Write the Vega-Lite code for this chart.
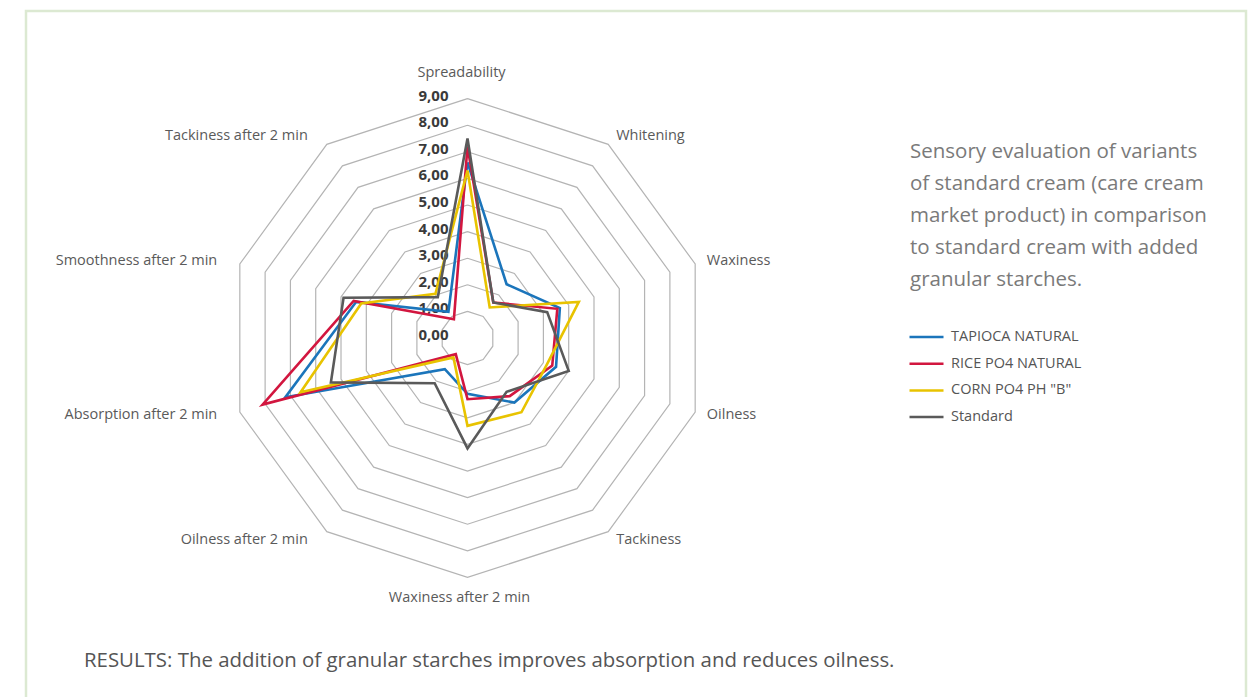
{
  "$schema": "https://vega.github.io/schema/vega-lite/v6.json",
  "width": 1220,
  "height": 688,
  "autosize": {"type": "none"},
  "padding": {"left": 26, "top": 11, "right": 10, "bottom": -2},
  "background": "white",
  "config": {
    "view": {"stroke": "#dce9d2", "strokeWidth": 2.5},
    "font": "Open Sans"
  },
  "title": {
    "text": "RESULTS: The addition of granular starches improves absorption and reduces oilness.",
    "orient": "bottom",
    "anchor": "start",
    "frame": "group",
    "offset": -48,
    "dx": 58,
    "fontSize": 20.4,
    "fontWeight": "normal",
    "font": "Open Sans",
    "color": "#555555"
  },
  "datasets": {
    "rings": [
      {"level": 1, "vertex": [0,1,2,3,4,5,6,7,8,9,10]},
      {"level": 2, "vertex": [0,1,2,3,4,5,6,7,8,9,10]},
      {"level": 3, "vertex": [0,1,2,3,4,5,6,7,8,9,10]},
      {"level": 4, "vertex": [0,1,2,3,4,5,6,7,8,9,10]},
      {"level": 5, "vertex": [0,1,2,3,4,5,6,7,8,9,10]},
      {"level": 6, "vertex": [0,1,2,3,4,5,6,7,8,9,10]},
      {"level": 7, "vertex": [0,1,2,3,4,5,6,7,8,9,10]},
      {"level": 8, "vertex": [0,1,2,3,4,5,6,7,8,9,10]},
      {"level": 9, "vertex": [0,1,2,3,4,5,6,7,8,9,10]}
    ],
    "levels": [
      {"level": 0, "label": "0,00"},
      {"level": 1, "label": "1,00"},
      {"level": 2, "label": "2,00"},
      {"level": 3, "label": "3,00"},
      {"level": 4, "label": "4,00"},
      {"level": 5, "label": "5,00"},
      {"level": 6, "label": "6,00"},
      {"level": 7, "label": "7,00"},
      {"level": 8, "label": "8,00"},
      {"level": 9, "label": "9,00"}
    ],
    "attributes": [
      {"attribute": "Spreadability", "idx": 0},
      {"attribute": "Whitening", "idx": 1},
      {"attribute": "Waxiness", "idx": 2},
      {"attribute": "Oilness", "idx": 3},
      {"attribute": "Tackiness", "idx": 4},
      {"attribute": "Waxiness after 2 min", "idx": 5},
      {"attribute": "Oilness after 2 min", "idx": 6},
      {"attribute": "Absorption after 2 min", "idx": 7},
      {"attribute": "Smoothness after 2 min", "idx": 8},
      {"attribute": "Tackiness after 2 min", "idx": 9}
    ],
    "scores": [
      {"series": "TAPIOCA NATURAL", "attribute": "Spreadability", "idx": 0, "value": 6.6},
      {"series": "TAPIOCA NATURAL", "attribute": "Whitening", "idx": 1, "value": 2.5},
      {"series": "TAPIOCA NATURAL", "attribute": "Waxiness", "idx": 2, "value": 3.65},
      {"series": "TAPIOCA NATURAL", "attribute": "Oilness", "idx": 3, "value": 3.5},
      {"series": "TAPIOCA NATURAL", "attribute": "Tackiness", "idx": 4, "value": 3.0},
      {"series": "TAPIOCA NATURAL", "attribute": "Waxiness after 2 min", "idx": 5, "value": 2.1},
      {"series": "TAPIOCA NATURAL", "attribute": "Oilness after 2 min", "idx": 6, "value": 1.45},
      {"series": "TAPIOCA NATURAL", "attribute": "Absorption after 2 min", "idx": 7, "value": 7.2},
      {"series": "TAPIOCA NATURAL", "attribute": "Smoothness after 2 min", "idx": 8, "value": 4.4},
      {"series": "TAPIOCA NATURAL", "attribute": "Tackiness after 2 min", "idx": 9, "value": 1.22},
      {"series": "TAPIOCA NATURAL", "attribute": "Spreadability", "idx": 10, "value": 6.6},
      {"series": "RICE PO4 NATURAL", "attribute": "Spreadability", "idx": 0, "value": 7.2},
      {"series": "RICE PO4 NATURAL", "attribute": "Whitening", "idx": 1, "value": 1.65},
      {"series": "RICE PO4 NATURAL", "attribute": "Waxiness", "idx": 2, "value": 3.55},
      {"series": "RICE PO4 NATURAL", "attribute": "Oilness", "idx": 3, "value": 3.35},
      {"series": "RICE PO4 NATURAL", "attribute": "Tackiness", "idx": 4, "value": 2.7},
      {"series": "RICE PO4 NATURAL", "attribute": "Waxiness after 2 min", "idx": 5, "value": 2.3},
      {"series": "RICE PO4 NATURAL", "attribute": "Oilness after 2 min", "idx": 6, "value": 0.75},
      {"series": "RICE PO4 NATURAL", "attribute": "Absorption after 2 min", "idx": 7, "value": 8.1},
      {"series": "RICE PO4 NATURAL", "attribute": "Smoothness after 2 min", "idx": 8, "value": 4.5},
      {"series": "RICE PO4 NATURAL", "attribute": "Tackiness after 2 min", "idx": 9, "value": 0.87},
      {"series": "RICE PO4 NATURAL", "attribute": "Spreadability", "idx": 10, "value": 7.2},
      {"series": "CORN PO4 PH \"B\"", "attribute": "Spreadability", "idx": 0, "value": 6.3},
      {"series": "CORN PO4 PH \"B\"", "attribute": "Whitening", "idx": 1, "value": 1.42},
      {"series": "CORN PO4 PH \"B\"", "attribute": "Waxiness", "idx": 2, "value": 4.4},
      {"series": "CORN PO4 PH \"B\"", "attribute": "Oilness", "idx": 3, "value": 3.15},
      {"series": "CORN PO4 PH \"B\"", "attribute": "Tackiness", "idx": 4, "value": 3.45},
      {"series": "CORN PO4 PH \"B\"", "attribute": "Waxiness after 2 min", "idx": 5, "value": 3.3},
      {"series": "CORN PO4 PH \"B\"", "attribute": "Oilness after 2 min", "idx": 6, "value": 0.9},
      {"series": "CORN PO4 PH \"B\"", "attribute": "Absorption after 2 min", "idx": 7, "value": 6.6},
      {"series": "CORN PO4 PH \"B\"", "attribute": "Smoothness after 2 min", "idx": 8, "value": 4.2},
      {"series": "CORN PO4 PH \"B\"", "attribute": "Tackiness after 2 min", "idx": 9, "value": 2.05},
      {"series": "CORN PO4 PH \"B\"", "attribute": "Spreadability", "idx": 10, "value": 6.3},
      {"series": "Standard", "attribute": "Spreadability", "idx": 0, "value": 7.5},
      {"series": "Standard", "attribute": "Whitening", "idx": 1, "value": 1.65},
      {"series": "Standard", "attribute": "Waxiness", "idx": 2, "value": 3.15},
      {"series": "Standard", "attribute": "Oilness", "idx": 3, "value": 4.0},
      {"series": "Standard", "attribute": "Tackiness", "idx": 4, "value": 2.5},
      {"series": "Standard", "attribute": "Waxiness after 2 min", "idx": 5, "value": 4.15},
      {"series": "Standard", "attribute": "Oilness after 2 min", "idx": 6, "value": 2.1},
      {"series": "Standard", "attribute": "Absorption after 2 min", "idx": 7, "value": 5.4},
      {"series": "Standard", "attribute": "Smoothness after 2 min", "idx": 8, "value": 4.9},
      {"series": "Standard", "attribute": "Tackiness after 2 min", "idx": 9, "value": 1.9},
      {"series": "Standard", "attribute": "Spreadability", "idx": 10, "value": 7.5}
    ]
  },
  "layer": [
    {
      "data": {"name": "rings"},
      "transform": [
        {"flatten": ["vertex"]},
        {"calculate": "datum.level * sin(datum.vertex * PI / 5)", "as": "px"},
        {"calculate": "datum.level * cos(datum.vertex * PI / 5)", "as": "py"}
      ],
      "mark": {"type": "line", "stroke": "#b4b4b4", "strokeWidth": 1.2},
      "encoding": {
        "x": {"field": "px", "type": "quantitative", "scale": {"domain": [-16.598, 29.267], "nice": false, "zero": false}, "axis": null},
        "y": {"field": "py", "type": "quantitative", "scale": {"domain": [-13.571, 12.293], "nice": false, "zero": false}, "axis": null},
        "detail": {"field": "level", "type": "nominal"},
        "order": {"field": "vertex", "type": "quantitative"}
      }
    },
    {
      "data": {"name": "levels"},
      "mark": {"type": "text", "align": "right", "baseline": "middle", "dx": -19, "dy": -3, "fontSize": 15, "fontWeight": "bold", "color": "#3a3a3a", "font": "Open Sans"},
      "encoding": {
        "x": {"datum": 0, "type": "quantitative"},
        "y": {"field": "level", "type": "quantitative"},
        "text": {"field": "label", "type": "nominal"}
      }
    },
    {
      "data": {"name": "scores"},
      "transform": [
        {"calculate": "datum.value * sin(datum.idx * PI / 5)", "as": "px"},
        {"calculate": "datum.value * cos(datum.idx * PI / 5)", "as": "py"}
      ],
      "mark": {"type": "line", "strokeWidth": 2.6, "strokeJoin": "miter"},
      "encoding": {
        "x": {"field": "px", "type": "quantitative"},
        "y": {"field": "py", "type": "quantitative"},
        "order": {"field": "idx", "type": "quantitative"},
        "color": {
          "field": "series",
          "type": "nominal",
          "scale": {
            "domain": ["TAPIOCA NATURAL", "RICE PO4 NATURAL", "CORN PO4 PH \"B\"", "Standard"],
            "range": ["#1b75bb", "#d2163f", "#e8c300", "#5a5a5a"]
          },
          "legend": {
            "orient": "none",
            "legendX": 884,
            "legendY": 131,
            "padding": 0,
            "title": ["Sensory evaluation of variants", "of standard cream (care cream", "market product) in comparison", "to standard cream with added", "granular starches."],
            "titleFont": "Open Sans",
            "titleFontSize": 20.5,
            "titleFontWeight": "normal",
            "titleColor": "#7a7a7a",
            "titleLineHeight": 32,
            "titleLimit": 500,
            "titlePadding": 35,
            "symbolType": "M-1.2,0H2.2",
            "symbolSize": 400,
            "symbolStrokeWidth": 2.5,
            "labelFont": "Open Sans",
            "labelFontSize": 14.5,
            "labelColor": "#555555",
            "labelOffset": 18,
            "labelLimit": 400,
            "rowPadding": 8.7
          }
        }
      }
    },
    {
      "data": {"name": "attributes"},
      "transform": [
        {"filter": "datum.idx > 0 && datum.idx < 5"},
        {"calculate": "9.38 * sin(datum.idx * PI / 5)", "as": "px"},
        {"calculate": "9.38 * cos(datum.idx * PI / 5)", "as": "py"}
      ],
      "mark": {"type": "text", "align": "left", "baseline": "middle", "dx": 2, "fontSize": 14.5, "color": "#5a5a5a", "font": "Open Sans"},
      "encoding": {
        "x": {"field": "px", "type": "quantitative"},
        "y": {"field": "py", "type": "quantitative"},
        "text": {"field": "attribute", "type": "nominal"}
      }
    },
    {
      "data": {"name": "attributes"},
      "transform": [
        {"filter": "datum.idx > 5"},
        {"calculate": "9.38 * sin(datum.idx * PI / 5)", "as": "px"},
        {"calculate": "9.38 * cos(datum.idx * PI / 5)", "as": "py"}
      ],
      "mark": {"type": "text", "align": "right", "baseline": "middle", "dx": -13, "fontSize": 14.5, "color": "#5a5a5a", "font": "Open Sans"},
      "encoding": {
        "x": {"field": "px", "type": "quantitative"},
        "y": {"field": "py", "type": "quantitative"},
        "text": {"field": "attribute", "type": "nominal"}
      }
    },
    {
      "data": {"name": "attributes"},
      "transform": [
        {"filter": "datum.idx == 0"},
        {"calculate": "9.38 * sin(datum.idx * PI / 5)", "as": "px"},
        {"calculate": "9.38 * cos(datum.idx * PI / 5)", "as": "py"}
      ],
      "mark": {"type": "text", "align": "center", "baseline": "middle", "dx": -6, "dy": -15, "fontSize": 14.5, "color": "#5a5a5a", "font": "Open Sans"},
      "encoding": {
        "x": {"field": "px", "type": "quantitative"},
        "y": {"field": "py", "type": "quantitative"},
        "text": {"field": "attribute", "type": "nominal"}
      }
    },
    {
      "data": {"name": "attributes"},
      "transform": [
        {"filter": "datum.idx == 5"},
        {"calculate": "9.38 * sin(datum.idx * PI / 5)", "as": "px"},
        {"calculate": "9.38 * cos(datum.idx * PI / 5)", "as": "py"}
      ],
      "mark": {"type": "text", "align": "center", "baseline": "middle", "dx": -8, "dy": 10, "fontSize": 14.5, "color": "#5a5a5a", "font": "Open Sans"},
      "encoding": {
        "x": {"field": "px", "type": "quantitative"},
        "y": {"field": "py", "type": "quantitative"},
        "text": {"field": "attribute", "type": "nominal"}
      }
    }
  ]
}
